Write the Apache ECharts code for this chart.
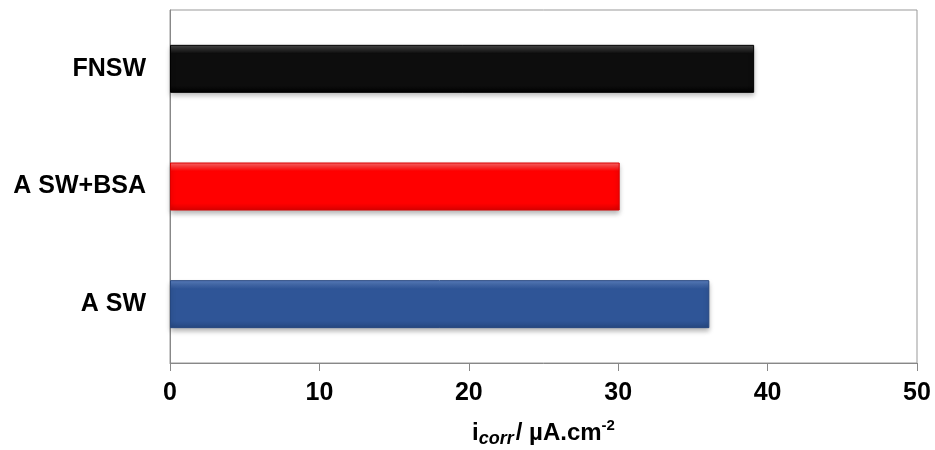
<!DOCTYPE html>
<html><head><meta charset="utf-8">
<script src="https://cdn.jsdelivr.net/npm/echarts@6/dist/echarts.min.js"></script>
<style>html,body{margin:0;padding:0;background:#fff}#c{width:935px;height:450px}</style>
</head><body><div id="c"></div>
<script>
const categories = ['A SW', 'A SW+BSA', 'FNSW'];
const values = [36.1, 30.1, 39.1];
const barColors = [
  ['#5b80bf', '#2f5597', '#26477f'],
  ['#ff6a6a', '#ff0000', '#d80000'],
  ['#4a4a4a', '#0d0d0d', '#000000']
];
const xTicks = [0, 10, 20, 30, 40, 50];

const font = '"Liberation Sans", Arial, sans-serif';
const chart = echarts.init(document.getElementById('c'));
chart.setOption({
  animation: false,
  grid: { left: 170, right: 18, top: 10, bottom: 87, show: true, borderColor: '#999', borderWidth: 1,
          containLabel: false, outerBoundsMode: 'none' },
  xAxis: {
    type: 'value', min: xTicks[0], max: xTicks[xTicks.length - 1], interval: 10,
    axisLine: { show: true, lineStyle: { color: '#888' } },
    axisTick: { show: true, length: 8, lineStyle: { color: '#888' } },
    splitLine: { show: false },
    axisLabel: { color: '#000', fontFamily: font, fontWeight: 'bold', fontSize: 25, margin: 18 },
    name: '{i|i}{sub|corr}{n|/ µA.cm}{sup|-2}',
    nameLocation: 'middle', nameGap: 55,
    nameTextStyle: {
      fontFamily: font, fontWeight: 'bold', fontSize: 24, color: '#000',
      rich: {
        i: { fontFamily: font, fontWeight: 'bold', fontSize: 24, color: '#000', lineHeight: 30, verticalAlign: 'middle' },
        sub: { fontFamily: font, fontWeight: 'bold', fontStyle: 'italic', fontSize: 18, color: '#000', lineHeight: 30, verticalAlign: 'bottom', padding: [0, 2, 0, 0] },
        n: { fontFamily: font, fontWeight: 'bold', fontSize: 24, color: '#000', lineHeight: 30, verticalAlign: 'middle' },
        sup: { fontFamily: font, fontWeight: 'bold', fontSize: 15, color: '#000', lineHeight: 30, verticalAlign: 'top' }
      }
    }
  },
  yAxis: {
    type: 'category', data: categories,
    axisLine: { show: true, lineStyle: { color: '#888' } },
    axisTick: { show: false },
    axisLabel: { color: '#000', fontFamily: font, fontWeight: 'bold', fontSize: 25, margin: 24 }
  },
  series: [{
    type: 'bar', barWidth: 48,
    data: values.map((v, i) => ({
      value: v,
      itemStyle: {
        color: new echarts.graphic.LinearGradient(0, 0, 0, 1, [
          { offset: 0, color: barColors[i][0] },
          { offset: 0.18, color: barColors[i][1] },
          { offset: 0.85, color: barColors[i][1] },
          { offset: 1, color: barColors[i][2] }
        ]),
        borderColor: barColors[i][2], borderWidth: 1,
        shadowBlur: 5, shadowOffsetY: 3, shadowColor: 'rgba(0,0,0,0.3)'
      }
    }))
  }]
});
</script></body></html>
